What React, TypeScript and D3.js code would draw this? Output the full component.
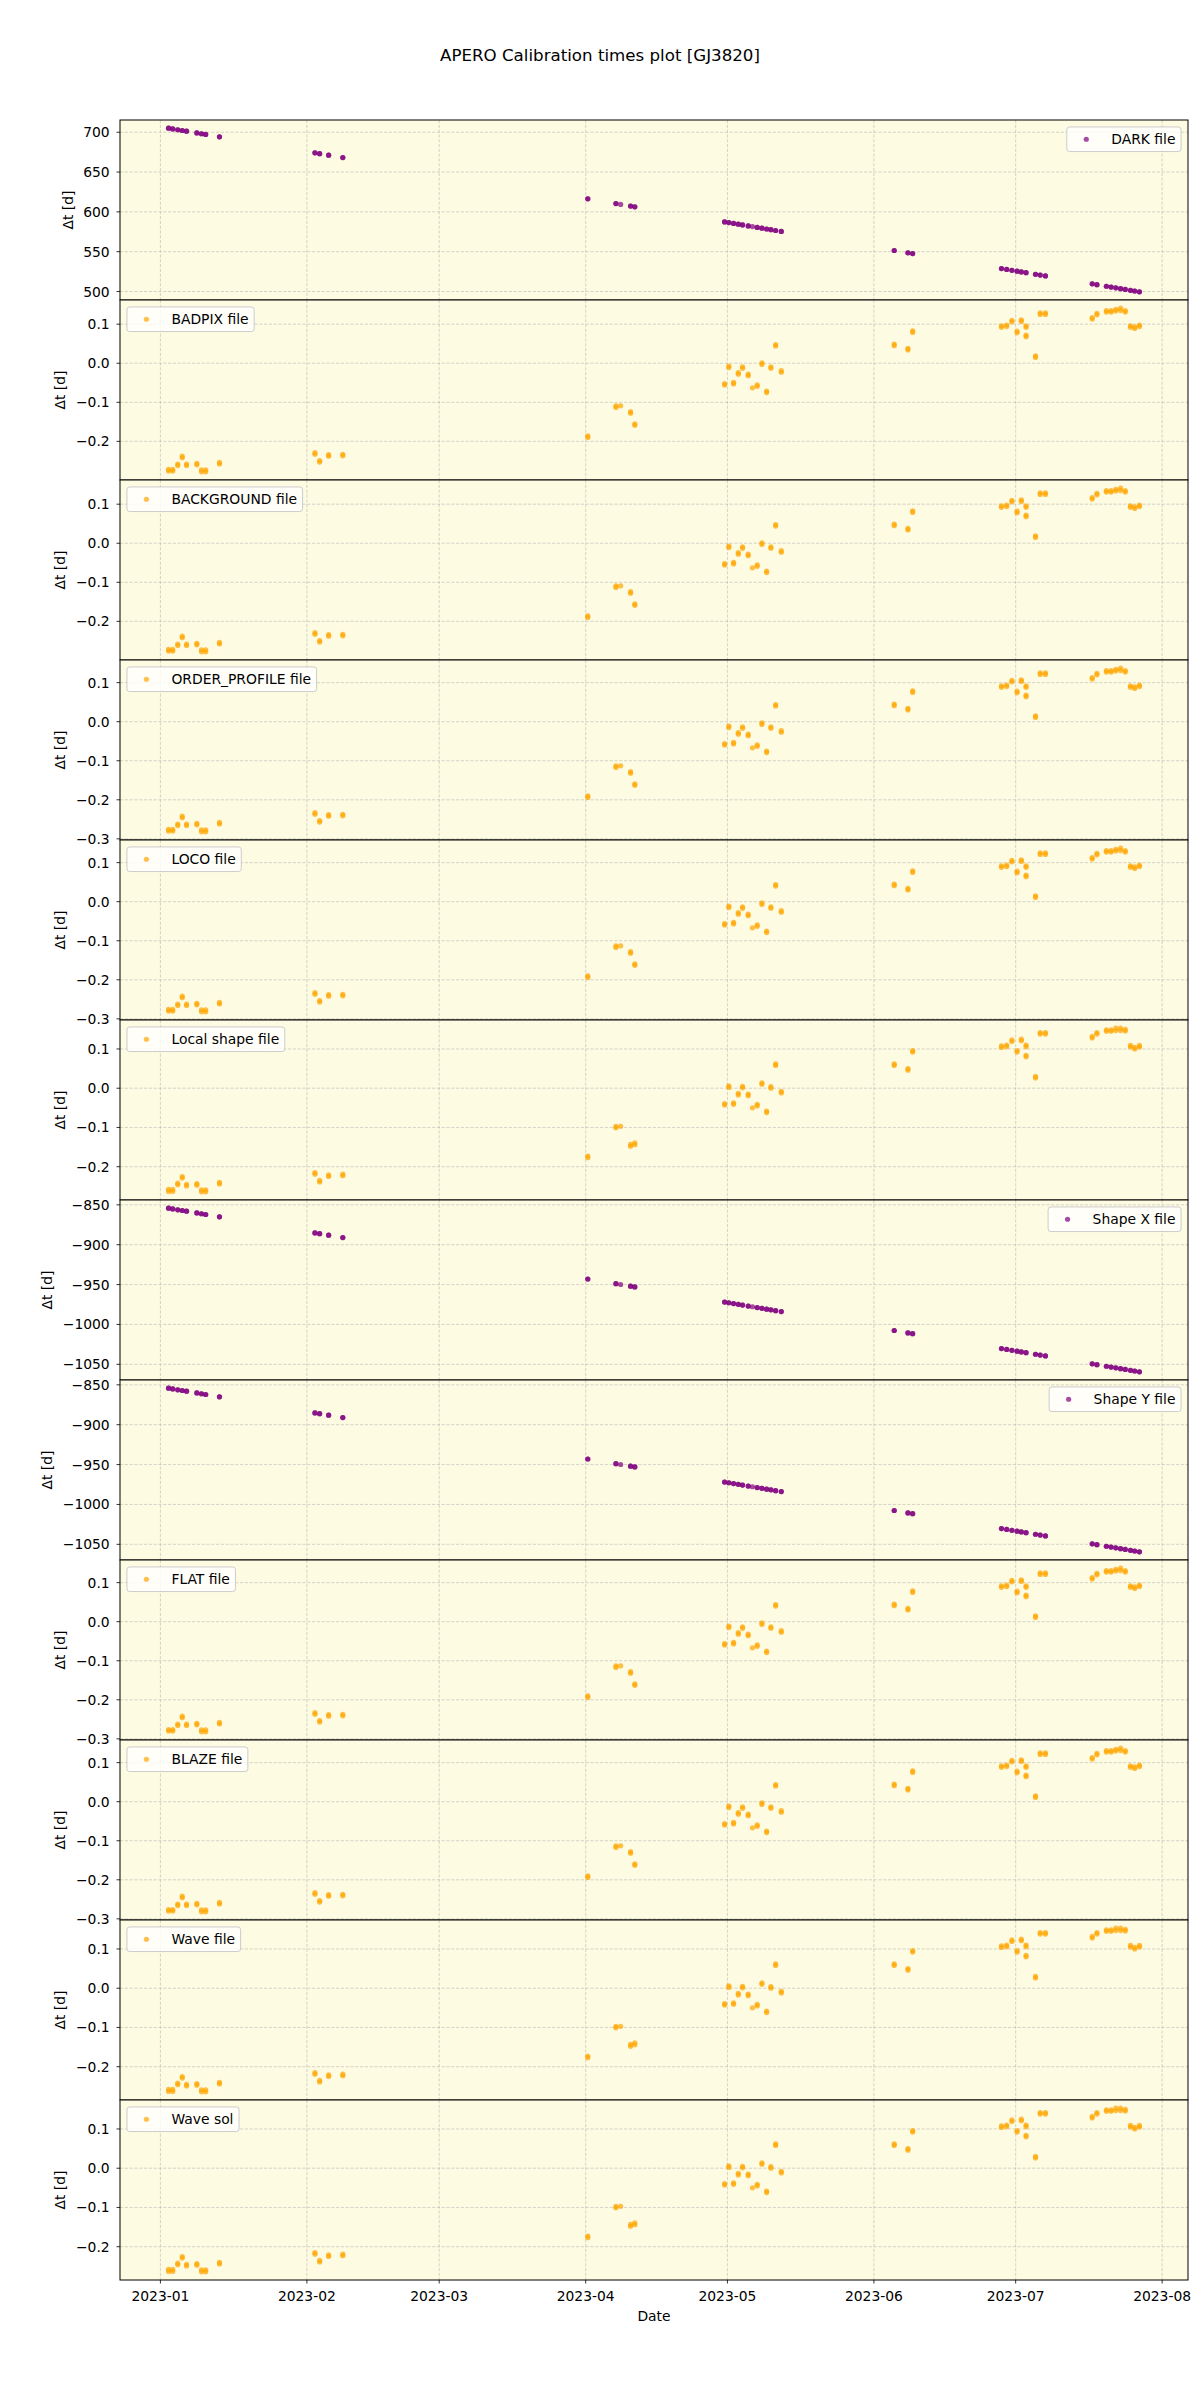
import React, { useEffect, useRef } from "react";
import * as d3 from "d3";

// Observation nights (UTC)
const obsDates = [
  "2023-01-02T17:17", "2023-01-03T14:38", "2023-01-04T16:05", "2023-01-05T14:53", "2023-01-06T12:43",
  "2023-01-08T17:02", "2023-01-09T16:34", "2023-01-10T13:55", "2023-01-13T12:00",
  "2023-02-02T16:48", "2023-02-03T16:48", "2023-02-05T14:24", "2023-02-08T14:24",
  "2023-04-01T10:48", "2023-04-07T09:36", "2023-04-08T09:36", "2023-04-10T12:00", "2023-04-11T09:36",
  "2023-04-30T09:36", "2023-05-01T07:12", "2023-05-02T07:12", "2023-05-03T07:12", "2023-05-04T04:48",
  "2023-05-05T09:36", "2023-05-06T07:12", "2023-05-07T07:12", "2023-05-08T07:12", "2023-05-09T07:12",
  "2023-05-10T04:48", "2023-05-11T04:48", "2023-05-12T09:36",
  "2023-06-05T07:12", "2023-06-08T04:48", "2023-06-09T04:48",
  "2023-06-28T00:00", "2023-06-29T02:24", "2023-06-30T04:48", "2023-07-01T07:12", "2023-07-02T04:48",
  "2023-07-03T04:48", "2023-07-05T04:48", "2023-07-06T04:48", "2023-07-07T07:12",
  "2023-07-17T04:48", "2023-07-18T04:48", "2023-07-20T04:48", "2023-07-21T04:48", "2023-07-22T04:48",
  "2023-07-23T04:48", "2023-07-24T04:48", "2023-07-25T07:12", "2023-07-26T04:48", "2023-07-27T04:48",
];

// number of files per night
const nFiles = [
  2, 2, 2, 2, 2, 2, 2, 2, 2,
  2, 2, 2, 2,
  2, 2, 1, 2, 2,
  2, 2, 2, 2, 2, 2, 1, 2, 2, 2, 2, 2, 2,
  2, 2, 2,
  2, 2, 2, 2, 2, 2, 2, 2, 2,
  2, 2, 2, 2, 2, 2, 2, 2, 2, 2,
];

const darkVals = [
  705.1, 704.2, 703.1, 702.2, 701.3, 699.1, 698.1, 697.2, 694.3,
  674.1, 673.1, 671.2, 668.2,
  616.4, 610.4, 609.4, 607.3, 606.4,
  587.4, 586.5, 585.5, 584.5, 583.6, 582.4, 581.5, 580.5, 579.5, 578.5, 577.6, 576.6, 575.4,
  551.5, 548.6, 547.6,
  528.8, 527.7, 526.6, 525.5, 524.6, 523.6, 521.6, 520.6, 519.5,
  509.6, 508.6, 506.6, 505.6, 504.6, 503.6, 502.6, 501.5, 500.6, 499.6,
];

const shapeXVals = [
  -854.2, -855.1, -856.2, -857.1, -858.0, -860.2, -861.2, -862.1, -865.0,
  -885.2, -886.2, -888.1, -891.1,
  -943.0, -948.9, -949.9, -952.0, -952.9,
  -971.9, -972.8, -973.8, -974.8, -975.7, -976.9, -977.8, -978.8, -979.8, -980.8, -981.7, -982.7, -983.9,
  -1007.6, -1010.6, -1011.6,
  -1030.2, -1031.3, -1032.4, -1033.5, -1034.4, -1035.4, -1037.4, -1038.4, -1039.5,
  -1049.4, -1050.4, -1052.4, -1053.4, -1054.4, -1055.4, -1056.4, -1057.5, -1058.4, -1059.4,
];

const shapeYVals = [
  -854.2, -855.1, -856.2, -857.1, -858.0, -860.2, -861.2, -862.1, -865.0,
  -885.2, -886.2, -888.1, -891.1,
  -943.0, -948.9, -949.9, -952.0, -952.9,
  -971.9, -972.8, -973.8, -974.8, -975.7, -976.9, -977.8, -978.8, -979.8, -980.8, -981.7, -982.7, -983.9,
  -1007.6, -1010.6, -1011.6,
  -1030.2, -1031.3, -1032.4, -1033.5, -1034.4, -1035.4, -1037.4, -1038.4, -1039.5,
  -1049.4, -1050.4, -1052.4, -1053.4, -1054.4, -1055.4, -1056.4, -1057.5, -1058.4, -1059.4,
];

// per-night values of the files (first / last file of the night)
const badpixVals = [
  [-0.276, -0.272], [-0.276, -0.272], [-0.262, -0.258], [-0.242, -0.238], [-0.262, -0.258],
  [-0.260, -0.256], [-0.278, -0.273], [-0.278, -0.273], [-0.258, -0.254],
  [-0.233, -0.229], [-0.253, -0.249], [-0.238, -0.234], [-0.237, -0.233],
  [-0.190, -0.186], [-0.113, -0.109], [-0.109], [-0.128, -0.124], [-0.159, -0.155],
  [-0.056, -0.052], [-0.011, -0.007], [-0.053, -0.049], [-0.028, -0.024], [-0.013, -0.009],
  [-0.032, -0.028], [-0.063], [-0.059, -0.055], [-0.003, 0.001], [-0.075, -0.071],
  [-0.013, -0.009], [0.044, 0.048], [-0.023, -0.019],
  [0.045, 0.049], [0.034, 0.038], [0.079, 0.083],
  [0.092, 0.096], [0.094, 0.098], [0.106, 0.110], [0.078, 0.082], [0.107, 0.111],
  [0.068, 0.072, 0.092, 0.096], [0.015, 0.019], [0.125, 0.129], [0.125, 0.129],
  [0.113, 0.117], [0.124, 0.128], [0.131, 0.135], [0.131, 0.135], [0.134, 0.138],
  [0.135, 0.141], [0.131, 0.135], [0.092, 0.096], [0.089, 0.093], [0.094, 0.098],
];
const backgroundVals = badpixVals;

const orderProfileVals = [
  [-0.280, -0.276], [-0.280, -0.276], [-0.266, -0.262], [-0.246, -0.242], [-0.266, -0.262],
  [-0.264, -0.260], [-0.282, -0.277], [-0.282, -0.277], [-0.262, -0.258],
  [-0.237, -0.233], [-0.257, -0.253], [-0.242, -0.238], [-0.241, -0.237],
  [-0.194, -0.190], [-0.117, -0.113], [-0.113], [-0.132, -0.128], [-0.163, -0.159],
  [-0.060, -0.056], [-0.015, -0.011], [-0.057, -0.053], [-0.032, -0.028], [-0.017, -0.013],
  [-0.036, -0.032], [-0.067], [-0.063, -0.059], [-0.007, -0.003], [-0.079, -0.075],
  [-0.017, -0.013], [0.040, 0.044], [-0.027, -0.023],
  [0.041, 0.045], [0.030, 0.034], [0.075, 0.079],
  [0.088, 0.092], [0.090, 0.094], [0.102, 0.106], [0.074, 0.078], [0.103, 0.107],
  [0.064, 0.068, 0.088, 0.092], [0.011, 0.015], [0.121, 0.125], [0.121, 0.125],
  [0.109, 0.113], [0.120, 0.124], [0.127, 0.131], [0.127, 0.131], [0.130, 0.134],
  [0.131, 0.137], [0.127, 0.131], [0.088, 0.092], [0.085, 0.089], [0.090, 0.094],
];
const locoVals = orderProfileVals;
const flatVals = orderProfileVals;
const blazeVals = orderProfileVals;

const localShapeVals = [
  [-0.263, -0.258], [-0.263, -0.258], [-0.246, -0.242], [-0.229, -0.225], [-0.249, -0.245],
  [-0.247, -0.243], [-0.264, -0.259], [-0.264, -0.259], [-0.244, -0.240],
  [-0.219, -0.215], [-0.239, -0.235], [-0.225, -0.221], [-0.223, -0.219],
  [-0.177, -0.173], [-0.101, -0.097], [-0.097], [-0.148, -0.143], [-0.144, -0.139],
  [-0.043, -0.039], [0.002, 0.006], [-0.041, -0.037], [-0.017, -0.013], [0.001, 0.005],
  [-0.019, -0.015], [-0.050], [-0.045, -0.041], [0.010, 0.014], [-0.062, -0.058],
  [0.000, 0.004], [0.058, 0.062], [-0.012, -0.008],
  [0.058, 0.062], [0.046, 0.050], [0.092, 0.096],
  [0.104, 0.108], [0.106, 0.110], [0.119, 0.123], [0.092, 0.096], [0.121, 0.125],
  [0.080, 0.084, 0.106, 0.110], [0.026, 0.030], [0.138, 0.142], [0.138, 0.142],
  [0.128, 0.132], [0.138, 0.142], [0.145, 0.149], [0.145, 0.149], [0.147, 0.153],
  [0.147, 0.153], [0.146, 0.150], [0.105, 0.109], [0.100, 0.104], [0.105, 0.109],
];
const waveVals = localShapeVals;
const waveSolVals = localShapeVals;

const panelLabels = [
  "DARK file", "BADPIX file", "BACKGROUND file", "ORDER_PROFILE file", "LOCO file",
  "Local shape file", "Shape X file", "Shape Y file", "FLAT file", "BLAZE file",
  "Wave file", "Wave sol",
];

const TITLE = "APERO Calibration times plot [GJ3820]";
const FONT = "'DejaVu Sans', sans-serif";
const PURPLE = "#800080";
const ORANGE = "#FFA500";
const BG = "#fdfbe1";

export default function App() {
  const ref = useRef<SVGSVGElement | null>(null);

  useEffect(() => {
    const svg = d3.select(ref.current);
    svg.selectAll("*").remove();

    const W = 1200, H = 2400;
    const L = 120, R = 1188, T = 120, B = 2280;
    const nP = 12;
    const ph = (B - T) / nP;
    const FS = 13.89;
    const MR = 2.6;

    const perNight = (vals: number[]) => vals.map((v, i) => d3.range(nFiles[i]).map(() => v));
    const series: { vals: number[][]; color: string; loc: string }[] = [
      { vals: perNight(darkVals), color: PURPLE, loc: "right" },
      { vals: badpixVals, color: ORANGE, loc: "left" },
      { vals: backgroundVals, color: ORANGE, loc: "left" },
      { vals: orderProfileVals, color: ORANGE, loc: "left" },
      { vals: locoVals, color: ORANGE, loc: "left" },
      { vals: localShapeVals, color: ORANGE, loc: "left" },
      { vals: perNight(shapeXVals), color: PURPLE, loc: "right" },
      { vals: perNight(shapeYVals), color: PURPLE, loc: "right" },
      { vals: flatVals, color: ORANGE, loc: "left" },
      { vals: blazeVals, color: ORANGE, loc: "left" },
      { vals: waveVals, color: ORANGE, loc: "left" },
      { vals: waveSolVals, color: ORANGE, loc: "left" },
    ];

    svg.append("rect").attr("width", W).attr("height", H).attr("fill", "white");

    const parse = d3.utcParse("%Y-%m-%dT%H:%M");
    const dates = obsDates.map((s) => parse(s) as Date);
    const [d0, d1] = d3.extent(dates) as [Date, Date];
    const span = +d1 - +d0;
    const x = d3
      .scaleUtc()
      .domain([new Date(+d0 - 0.05 * span), new Date(+d1 + 0.05 * span)])
      .range([L, R]);
    const monthTicks = d3.utcMonth.range(x.domain()[0], x.domain()[1]).filter((d) => x(d) >= L && x(d) <= R);

    // title
    svg.append("text")
      .attr("x", 600).attr("y", 61)
      .attr("text-anchor", "middle")
      .attr("font-family", FONT).attr("font-size", 16.67)
      .attr("fill", "black")
      .text(TITLE);

    series.forEach((s, i) => {
      const py0 = T + i * ph;
      const py1 = py0 + ph;
      const flat = s.vals.flat();
      const mn = d3.min(flat) as number;
      const mx = d3.max(flat) as number;
      const m = 0.05 * (mx - mn);
      const y = d3.scaleLinear().domain([mn - m, mx + m]).range([py1, py0]);
      const g = svg.append("g");

      g.append("rect").attr("x", L).attr("y", py0).attr("width", R - L).attr("height", ph).attr("fill", BG);

      const yTicks = y.ticks(5).filter((t) => y(t) >= py0 - 0.5 && y(t) <= py1 + 0.5);
      const step = yTicks.length > 1 ? Math.abs(yTicks[1] - yTicks[0]) : 1;
      const fmt = step < 1 ? d3.format(".1f") : d3.format("d");

      // grid
      const grid = g.append("g")
        .attr("stroke", "#b0b0b0").attr("stroke-opacity", 0.65)
        .attr("stroke-width", 0.8).attr("stroke-dasharray", "3.2,1.6");
      monthTicks.forEach((d) => {
        grid.append("line").attr("x1", x(d)).attr("x2", x(d)).attr("y1", py0).attr("y2", py1);
      });
      yTicks.forEach((t) => {
        grid.append("line").attr("x1", L).attr("x2", R).attr("y1", y(t)).attr("y2", y(t));
      });

      // points
      const pts = g.append("g").attr("fill", s.color).attr("fill-opacity", 0.7);
      s.vals.forEach((vs, j) => {
        vs.forEach((v) => {
          pts.append("circle").attr("cx", x(dates[j])).attr("cy", y(v)).attr("r", MR);
        });
      });

      // y ticks
      const tg = g.append("g");
      yTicks.forEach((t) => {
        g.append("line").attr("x1", L - 3.5).attr("x2", L).attr("y1", y(t)).attr("y2", y(t))
          .attr("stroke", "black").attr("stroke-width", 0.8);
        tg.append("text")
          .attr("x", L - 10.3).attr("y", y(t)).attr("dy", "0.36em")
          .attr("text-anchor", "end")
          .attr("font-family", FONT).attr("font-size", FS).attr("fill", "black")
          .text(fmt(t));
      });
      const bb = (tg.node() as SVGGElement).getBBox();
      const lx = bb.x - 10.6;
      g.append("text")
        .attr("transform", `translate(${lx},${(py0 + py1) / 2}) rotate(-90)`)
        .attr("text-anchor", "middle")
        .attr("font-family", FONT).attr("font-size", FS).attr("fill", "black")
        .text("Δt [d]");

      // frame
      g.append("rect").attr("x", L).attr("y", py0).attr("width", R - L).attr("height", ph)
        .attr("fill", "none").attr("stroke", "black").attr("stroke-width", 1);

      // legend
      const lg = g.append("g");
      const txt = lg.append("text")
        .attr("font-family", FONT).attr("font-size", FS).attr("fill", "black")
        .text(panelLabels[i]);
      const tw = (txt.node() as SVGTextElement).getComputedTextLength();
      const bw = 5.56 + 27.8 + 11.1 + tw + 5.56;
      const bh = 24.6;
      const bx = s.loc === "left" ? L + 6.95 : R - 6.95 - bw;
      const by = py0 + 6.95;
      lg.insert("rect", "text")
        .attr("x", bx).attr("y", by).attr("width", bw).attr("height", bh)
        .attr("rx", 2.8).attr("ry", 2.8)
        .attr("fill", "white").attr("fill-opacity", 0.8)
        .attr("stroke", "#cccccc").attr("stroke-width", 1);
      lg.insert("circle", "text")
        .attr("cx", bx + 5.56 + 13.9).attr("cy", by + bh / 2).attr("r", MR)
        .attr("fill", s.color).attr("fill-opacity", 0.7);
      txt.attr("x", bx + 5.56 + 27.8 + 11.1).attr("y", by + bh / 2 + 5);

      // bottom axis
      if (i === nP - 1) {
        monthTicks.forEach((d) => {
          g.append("line").attr("x1", x(d)).attr("x2", x(d)).attr("y1", py1).attr("y2", py1 + 3.5)
            .attr("stroke", "black").attr("stroke-width", 0.8);
          g.append("text")
            .attr("x", x(d)).attr("y", py1 + 21)
            .attr("text-anchor", "middle")
            .attr("font-family", FONT).attr("font-size", FS).attr("fill", "black")
            .text(d3.utcFormat("%Y-%m")(d));
        });
        g.append("text")
          .attr("x", (L + R) / 2).attr("y", py1 + 41)
          .attr("text-anchor", "middle")
          .attr("font-family", FONT).attr("font-size", FS).attr("fill", "black")
          .text("Date");
      }
    });
  }, []);

  return (
    <svg
      ref={ref}
      width={1200}
      height={2400}
      style={{ position: "absolute", left: 0, top: 0, display: "block" }}
    />
  );
}
